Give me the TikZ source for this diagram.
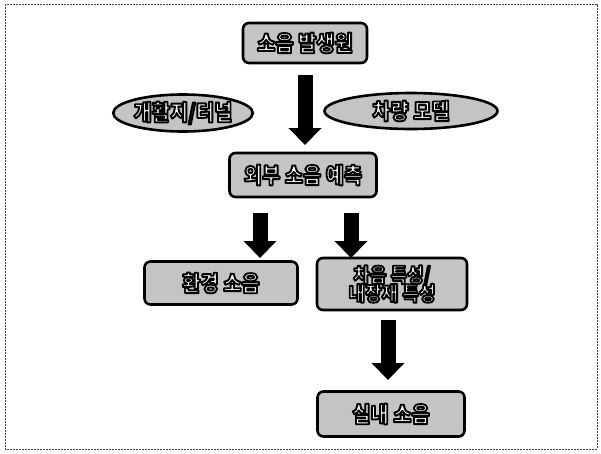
\documentclass[tikz,border=0pt]{standalone}
\usepackage{fontspec}
\newfontfamily\kr{Noto Sans CJK KR}[FakeStretch=0.9]
\newcommand{\otext}[1]{\special{pdf:literal direct 2 Tr 1.9 w 1 j 0 0 0 RG}#1\special{pdf:literal direct 0 Tr}}
\usetikzlibrary{arrows.meta,shapes.geometric}
\definecolor{boxgray}{RGB}{196,196,196}
\begin{document}
\begin{tikzpicture}[x=1pt,y=-1pt,
  box/.style={draw=black, line width=2.6pt, rounded corners=6pt, fill=boxgray,
    text=white, font=\kr\bfseries\fontsize{22}{24}\selectfont, inner sep=0pt, align=center},
  oval/.style={ellipse, draw=black, line width=2.6pt, fill=boxgray,
    text=white, font=\kr\bfseries\fontsize{22}{24}\selectfont, inner sep=0pt},
  bigarrow/.style={line width=15pt, -{Triangle[length=17pt,width=32pt]}},
  frame/.style={draw=black!75, line width=0.9pt, dash pattern=on 2pt off 1pt}]
\useasboundingbox (0,0) rectangle (601,453);
\draw[frame] (5,4) rectangle (597,449);

\node[box, minimum width=124pt, minimum height=40pt] (src) at (305,43) {\otext{소음 발생원}};
\node[oval, minimum width=137pt, minimum height=37pt] (open) at (183,113) {\otext{개활지/터널}};
\node[oval, minimum width=173pt, minimum height=36pt] (car) at (411,111) {\otext{차량 모델}};
\node[box, minimum width=147pt, minimum height=44pt] (ext) at (303,175) {\otext{외부 소음 예측}};
\node[box, minimum width=153pt, minimum height=43pt] (env) at (221,283) {\otext{환경 소음}};
\node[box, minimum width=150pt, minimum height=52pt, font=\kr\bfseries\fontsize{20}{20}\selectfont] (ins) at (392,284) {\otext{차음 특성/}\\[-3pt]\otext{내장재 특성}};
\node[box, minimum width=147pt, minimum height=45pt] (room) at (391,414) {\otext{실내 소음}};

\coordinate (a1s) at (305,75);  \coordinate (a1e) at (305,145);
\coordinate (a2s) at (260,213); \coordinate (a2e) at (260,258);
\coordinate (a3s) at (351,213); \coordinate (a3e) at (351,258);
\coordinate (a4s) at (388,320); \coordinate (a4e) at (388,380);
\draw[bigarrow] (a1s) -- (a1e);
\draw[bigarrow] (a2s) -- (a2e);
\draw[bigarrow] (a3s) -- (a3e);
\draw[bigarrow] (a4s) -- (a4e);
\end{tikzpicture}
\end{document}
